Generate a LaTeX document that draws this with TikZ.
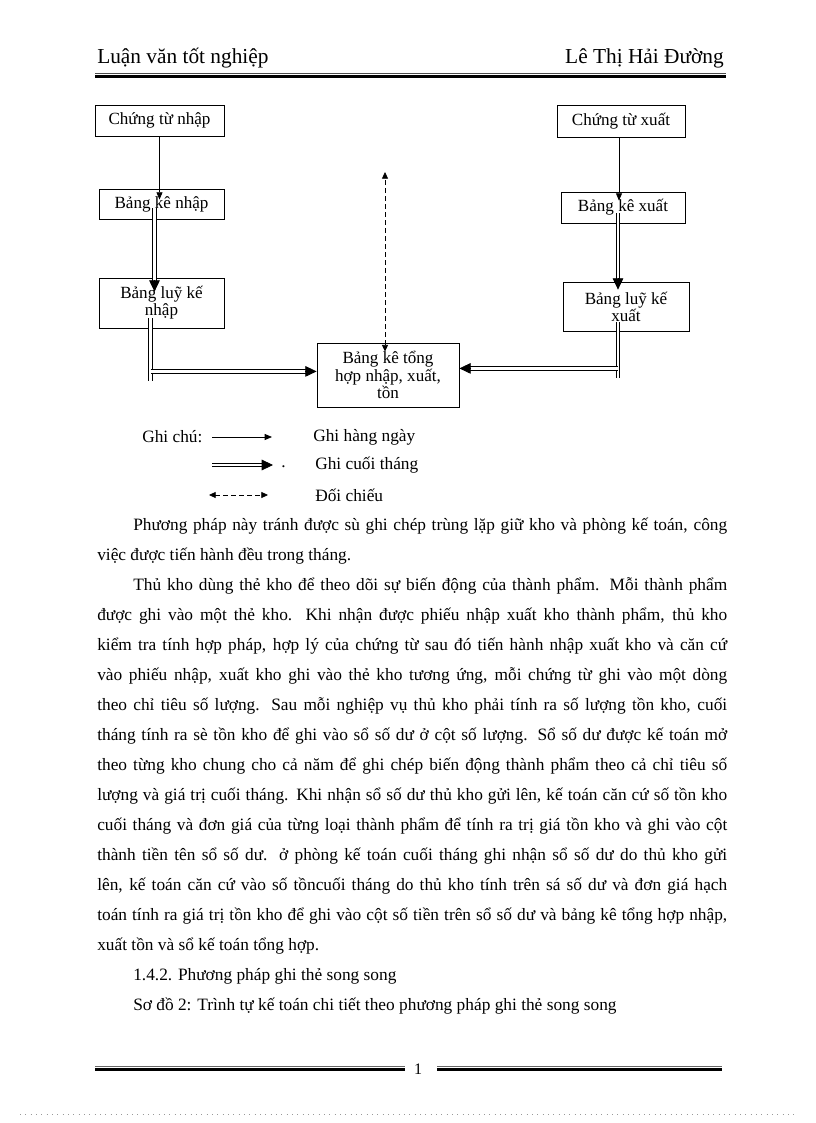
\documentclass[tikz,border=0pt]{standalone}
\usepackage{fontspec}
\setmainfont{Liberation Serif}
\usetikzlibrary{calc,arrows.meta}
\tikzset{
  box/.style={draw,line width=0.6pt,align=center,inner sep=1pt,font=\fontsize{12.8pt}{12.8pt}\selectfont},
  daily/.style={line width=0.6pt,-{Triangle[length=5.5pt,width=4.5pt]}},
  monthly/.style={double,double distance=2pt,line width=0.6pt},
  monthtip/.style={line width=0.6pt,-{Triangle[length=8.5pt,width=8pt]}},
  cross/.style={line width=0.6pt,dash pattern=on 3.75pt off 2.25pt,{Triangle[length=5pt,width=4.5pt]}-{Triangle[length=5pt,width=4.5pt]}},
  bodyline/.style={anchor=base west,inner sep=0pt,font=\fontsize{13pt}{15pt}\selectfont},
  legtxt/.style={anchor=west,inner sep=0pt,font=\fontsize{13pt}{15pt}\selectfont}
}
\newcommand{\montharrow}[2]{%
  \draw[monthly,shorten >=6pt] (#1) -- (#2);
  \draw[monthtip] ($(#2)!7pt!(#1)$) -- (#2);}

\begin{document}
\begin{tikzpicture}[x=0.75pt,y=-0.75pt]
\useasboundingbox (0,0) rectangle (816,1123);
\fill[white] (0,0) rectangle (816,1123);

% header and footer
\node[anchor=base west,inner sep=0pt,font=\fontsize{16pt}{18pt}\selectfont] (hl) at (97,64) {Luận văn tốt nghiệp};
\node[anchor=base east,inner sep=0pt,font=\fontsize{16pt}{18pt}\selectfont] (hr) at (724,64) {Lê Thị Hải Đường};
\draw[black!70,line width=0.6pt] (95,73) -- (726,73);
\draw[line width=2.2pt] (95,76.5) -- (726,76.5);
\draw[black!60,line width=0.6pt] (95,1066) -- (405,1066) (437,1066) -- (722,1066);
\draw[line width=2.2pt] (95,1069.5) -- (405,1069.5) (437,1069.5) -- (722,1069.5);
\node[font=\fontsize{12pt}{14pt}\selectfont] (pg) at (418,1069) {1};
\draw[gray!80,line width=0.5pt,dash pattern=on 0.6pt off 3.4pt] (20,1114) -- (798,1114);

% boxes
\node[box,minimum width=96.75pt,minimum height=23.25pt] (ctn) at (159.5,120.5) {Chứng từ nhập};
\node[box,minimum width=93.75pt,minimum height=22.5pt] (bkn) at (161.5,204) {Bảng kê nhập};
\node[box,minimum width=93.75pt,minimum height=37.5pt] (lkn) at (161.5,303) {Bảng luỹ kế\\nhập};
\node[box,minimum width=96pt,minimum height=24pt] (ctx) at (621,121) {Chứng từ xuất};
\node[box,minimum width=93pt,minimum height=23.25pt] (bkx) at (623,207.5) {Bảng kê xuất};
\node[box,minimum width=94.5pt,minimum height=36.75pt] (lkx) at (626,306.5) {Bảng luỹ kế\\xuất};
\node[box,minimum width=106.5pt,minimum height=48pt,font=\fontsize{12.8pt}{11.5pt}\selectfont] (tong) at (388,375) {Bảng kê tổng\\hợp nhập, xuất,\\tồn};

% connectors
\draw[daily] (ctn.south) -- ($(ctn.south |- bkn.north)+(0,11)$);
\draw[daily] ($(ctx.south)+(-2,0)$) -- ($(ctx.south |- bkx.north)+(-2,9)$);
\coordinate (m1s) at ($(bkn.south)+(-7,-11)$);
\coordinate (m1e) at ($(bkn.south |- lkn.north)+(-7,14)$);
\montharrow{m1s}{m1e}
\coordinate (m2s) at ($(bkx.south)+(-5,-10)$);
\coordinate (m2e) at ($(bkx.south |- lkx.north)+(-5,8)$);
\montharrow{m2s}{m2e}
\draw[monthly] ($(lkn.south)+(-11,-10)$) -- ($(lkn.south)+(-11,53)$);
\coordinate (m3s) at ($(lkn.south)+(-11,43)$);
\coordinate (m3e) at (m3s -| tong.west);
\montharrow{m3s}{m3e}
\draw[monthly] ($(lkx.south)+(-8,-9)$) -- ($(lkx.south)+(-8,47)$);
\coordinate (m4s) at ($(lkx.south)+(-8,37)$);
\coordinate (m4e) at (m4s -| tong.east);
\montharrow{m4s}{m4e}
\coordinate (dtop) at (385,172);
\draw[cross] ($(tong.north)+(-3,9)$) -- (dtop);

% legend
\node[legtxt] (gc) at (142,437) {Ghi chú:};
\coordinate (l1a) at (212,437); \coordinate (l1b) at (272,437);
\draw[daily] (l1a) -- (l1b);
\node[legtxt] (g1) at (313,437) {Ghi hàng ngày};
\coordinate (l2a) at (212,465); \coordinate (l2b) at (273,465);
\montharrow{l2a}{l2b}
\node[legtxt] (dot) at (281,467) {.};
\node[legtxt] (g2) at (315,465) {Ghi cuối tháng};
\coordinate (l3a) at (209,495); \coordinate (l3b) at (268,495);
\draw[cross] (l3a) -- (l3b);
\node[legtxt] (g3) at (315,495) {Đối chiếu};

% text
\node[bodyline] (t1) at (133,530) {\makebox[445.5pt][s]{Phương pháp này tránh được sù ghi chép trùng lặp giữ kho và phòng kế toán, công}};
\node[bodyline] (t2) at (97,560) {việc được tiến hành đều trong tháng.};
\node[bodyline] (t3) at (133,590) {\makebox[445.5pt][s]{Thủ kho dùng thẻ kho để theo dõi sự biến động của thành phẩm. Mỗi thành phẩm}};
\node[bodyline] (t4) at (97,620) {\makebox[472.5pt][s]{được ghi vào một thẻ kho. Khi nhận được phiếu nhập xuất kho thành phẩm, thủ kho}};
\node[bodyline] (t5) at (97,650) {\makebox[472.5pt][s]{kiểm tra tính hợp pháp, hợp lý của chứng từ sau đó tiến hành nhập xuất kho và căn cứ}};
\node[bodyline] (t6) at (97,680) {\makebox[472.5pt][s]{vào phiếu nhập, xuất kho ghi vào thẻ kho tương ứng, mỗi chứng từ ghi vào một dòng}};
\node[bodyline] (t7) at (97,710) {\makebox[472.5pt][s]{theo chỉ tiêu số lượng. Sau mỗi nghiệp vụ thủ kho phải tính ra số lượng tồn kho, cuối}};
\node[bodyline] (t8) at (97,740) {\makebox[472.5pt][s]{tháng tính ra sè tồn kho để ghi vào sổ số dư ở cột số lượng. Sổ số dư được kế toán mở}};
\node[bodyline] (t9) at (97,770) {\makebox[472.5pt][s]{theo từng kho chung cho cả năm để ghi chép biến động thành phẩm theo cả chỉ tiêu số}};
\node[bodyline] (t10) at (97,800) {\makebox[472.5pt][s]{lượng và giá trị cuối tháng. Khi nhận sổ số dư thủ kho gửi lên, kế toán căn cứ số tồn kho}};
\node[bodyline] (t11) at (97,830) {\makebox[472.5pt][s]{cuối tháng và đơn giá của từng loại thành phẩm để tính ra trị giá tồn kho và ghi vào cột}};
\node[bodyline] (t12) at (97,860) {\makebox[472.5pt][s]{thành tiền tên sổ số dư. ở phòng kế toán cuối tháng ghi nhận sổ số dư do thủ kho gửi}};
\node[bodyline] (t13) at (97,890) {\makebox[472.5pt][s]{lên, kế toán căn cứ vào số tồncuối tháng do thủ kho tính trên sá số dư và đơn giá hạch}};
\node[bodyline] (t14) at (97,920) {\makebox[472.5pt][s]{toán tính ra giá trị tồn kho để ghi vào cột số tiền trên sổ số dư và bảng kê tổng hợp nhập,}};
\node[bodyline] (t15) at (97,950) {xuất tồn và sổ kế toán tổng hợp.};
\node[bodyline] (t16) at (133,980) {1.4.2. Phương pháp ghi thẻ song song};
\node[bodyline] (t17) at (133,1010) {Sơ đồ 2: Trình tự kế toán chi tiết theo phương pháp ghi thẻ song song};
\end{tikzpicture}
\end{document}
